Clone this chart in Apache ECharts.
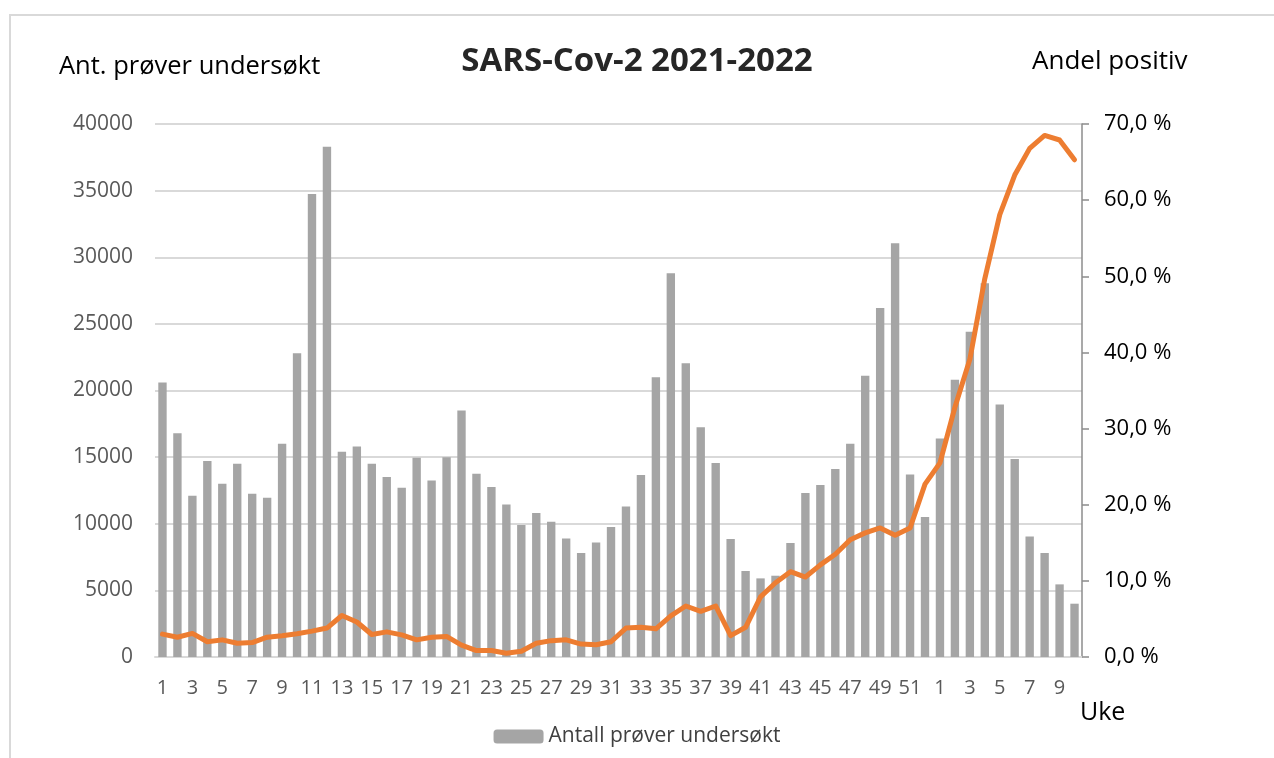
<!DOCTYPE html>
<html>
<head>
<meta charset="utf-8">
<title>SARS-Cov-2 2021-2022</title>
<script src="https://cdn.jsdelivr.net/npm/echarts@6/dist/echarts.min.js"></script>
<style>
    html, body { margin: 0; padding: 0; background: #fff; }
    #chart { width: 1274px; height: 758px; }
</style>
</head>
<body>
<div id="chart"></div>
<script>
// uke-etiketter: 2021 uke 1-52, deretter 2022 uke 1-10
var weeks = ['1','2','3','4','5','6','7','8','9','10','11','12','13','14','15','16','17','18','19','20',
    '21','22','23','24','25','26','27','28','29','30','31','32','33','34','35','36','37','38','39','40',
    '41','42','43','44','45','46','47','48','49','50','51','52',
    '1','2','3','4','5','6','7','8','9','10'];

// antall prøver undersøkt per uke
var tested = [20600, 16800, 12100, 14700, 13000, 14500, 12250, 11950, 16000, 22800,
    34750, 38300, 15400, 15800, 14500, 13500, 12700, 14950, 13250, 15000,
    18500, 13750, 12750, 11450, 9900, 10800, 10150, 8900, 7800, 8600,
    9750, 11300, 13650, 21000, 28800, 22050, 17250, 14550, 8850, 6450,
    5900, 6100, 8550, 12300, 12900, 14100, 16000, 21100, 26200, 31050,
    13700, 10500,
    16400, 20800, 24400, 28050, 18950, 14850, 9050, 7800, 5450, 4000];

// andel positive (%)
var positive = [3.0, 2.6, 3.1, 2.0, 2.25, 1.8, 1.9, 2.6, 2.8, 3.05,
    3.4, 3.8, 5.45, 4.6, 2.95, 3.3, 2.9, 2.25, 2.6, 2.7,
    1.55, 0.85, 0.85, 0.5, 0.75, 1.8, 2.15, 2.25, 1.7, 1.6,
    2.0, 3.8, 3.9, 3.7, 5.4, 6.7, 6.0, 6.7, 2.8, 3.9,
    7.9, 9.75, 11.2, 10.5, 12.1, 13.5, 15.4, 16.3, 16.95, 16.0,
    16.95, 22.7,
    25.5, 32.8, 39.1, 49.7, 58.1, 63.3, 66.8, 68.5, 67.9, 65.3];

var font = 'Open Sans';

var myChart = echarts.init(document.getElementById('chart'));

var option = {
    animation: false,
    backgroundColor: '#fff',
    textStyle: { fontFamily: font },
    title: {
        text: 'SARS-Cov-2 2021-2022',
        left: 'center',
        top: 40,
        textStyle: { fontFamily: font, fontSize: 33, fontWeight: 'bold', color: '#262626' }
    },
    legend: {
        data: ['Antall prøver undersøkt'],
        left: 'center',
        top: 721,
        itemWidth: 50,
        itemHeight: 14,
        itemGap: 8,
        textStyle: { fontFamily: font, fontSize: 21, color: '#404040' }
    },
    grid: { left: 155, right: 192, top: 124, bottom: 101 },
    xAxis: {
        type: 'category',
        data: weeks,
        axisTick: { show: false },
        axisLine: { lineStyle: { color: '#d9d9d9', width: 2 } },
        axisLabel: { interval: 1, margin: 21, fontSize: 20, color: '#595959' }
    },
    yAxis: [
        {
            type: 'value',
            min: 0,
            max: 40000,
            interval: 5000,
            axisLine: { show: false },
            axisTick: { show: false },
            axisLabel: {
                margin: 22, fontSize: 21, color: '#595959',
                formatter: function (v) { return String(v); }
            },
            splitLine: { lineStyle: { color: '#d9d9d9', width: 2 } }
        },
        {
            type: 'value',
            min: 0,
            max: 70,
            interval: 10,
            position: 'right',
            axisLine: { show: true, lineStyle: { color: '#8c8c8c', width: 1.5 } },
            axisTick: { show: true, inside: false, length: 7, lineStyle: { color: '#8c8c8c', width: 1.5 } },
            axisLabel: {
                margin: 22, fontSize: 22, color: '#000',
                formatter: function (v) { return v.toFixed(1).replace('.', ',') + ' %'; }
            },
            splitLine: { show: false }
        }
    ],
    graphic: [
        {
            type: 'rect',
            shape: { x: 10, y: 15, width: 1300, height: 800 },
            style: { fill: 'none', stroke: '#d9d9d9', lineWidth: 2 },
            silent: true
        },
        {
            type: 'text', left: 59, top: 54,
            style: { text: 'Ant. prøver undersøkt', fontFamily: font, fontSize: 25.5, fill: '#000' }
        },
        {
            type: 'text', left: 1032, top: 49,
            style: { text: 'Andel positiv', fontFamily: font, fontSize: 26, fill: '#000' }
        },
        {
            type: 'text', left: 1080, top: 700,
            style: { text: 'Uke', fontFamily: font, fontSize: 25, fill: '#000' }
        }
    ],
    series: [
        {
            name: 'Antall prøver undersøkt',
            type: 'bar',
            data: tested,
            barCategoryGap: '44%',
            itemStyle: { color: '#a5a5a5' }
        },
        {
            name: 'Andel positiv',
            type: 'line',
            yAxisIndex: 1,
            data: positive,
            symbol: 'none',
            lineStyle: { color: '#ed7d31', width: 5, cap: 'round', join: 'round' },
            itemStyle: { color: '#ed7d31' }
        }
    ]
};

myChart.setOption(option);
</script>
</body>
</html>
